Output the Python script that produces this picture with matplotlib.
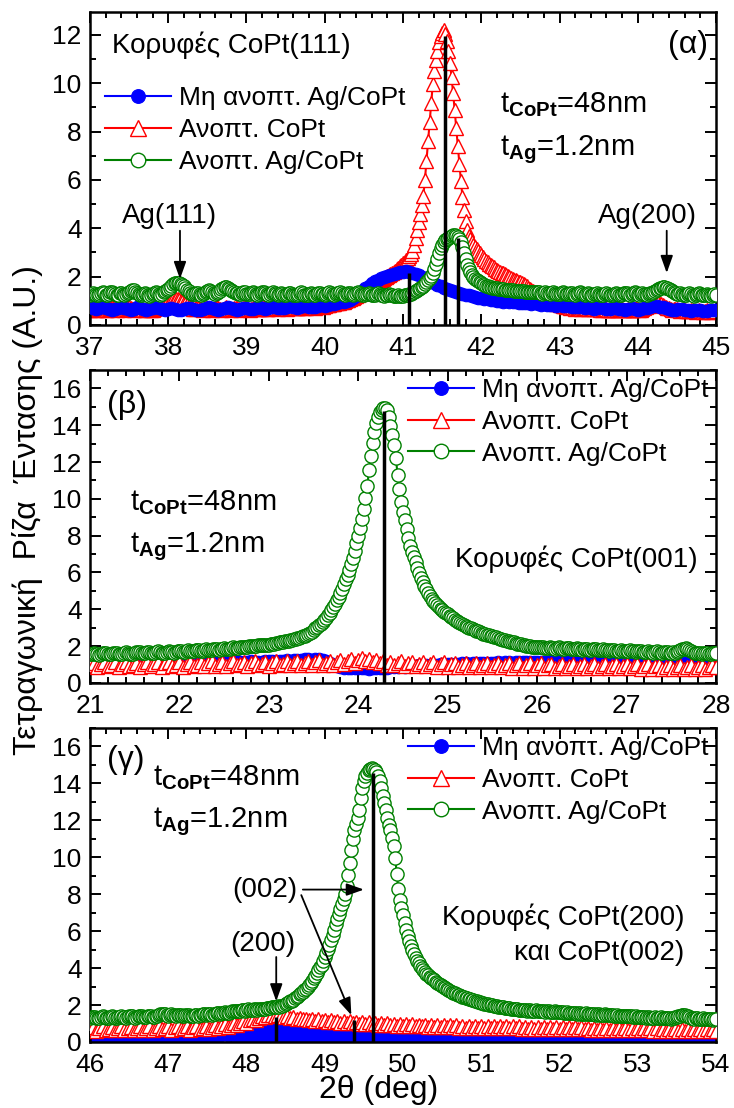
import numpy as np
import matplotlib
matplotlib.use("Agg")
import matplotlib.pyplot as plt
from matplotlib.ticker import MultipleLocator

plt.rcParams['font.family'] = ['Liberation Sans', 'DejaVu Sans']
plt.rcParams['mathtext.fontset'] = 'custom'
plt.rcParams['mathtext.rm'] = 'Liberation Sans'
plt.rcParams['mathtext.bf'] = 'Liberation Sans:bold'
plt.rcParams['mathtext.it'] = 'Liberation Sans:italic'

LABELS = ["Μη ανοπτ. Ag/CoPt", "Ανοπτ. CoPt", "Ανοπτ. Ag/CoPt"]

# ---------------- panel (α): 37-45 deg ----------------
a_blue_start, a_blue_step = 37.0, 0.04
a_blue = [
    0.75, 0.72, 0.68, 0.70, 0.74, 0.71, 0.66, 0.63, 0.67, 0.72, 0.75, 0.71, 0.67, 0.64, 0.68, 0.73, 0.70, 0.66, 0.62, 0.65, 0.70, 0.73, 0.69, 0.65, 0.63,
    0.66, 0.70, 0.68, 0.64, 0.61, 0.65, 0.69, 0.72, 0.68, 0.64, 0.62, 0.66, 0.70, 0.73, 0.69, 0.65, 0.63, 0.67, 0.71, 0.74, 0.70, 0.66, 0.64, 0.68, 0.72,
    0.69, 0.65, 0.67, 0.71, 0.74, 0.70, 0.67, 0.69, 0.73, 0.76, 0.72, 0.69, 0.71, 0.75, 0.78, 0.74, 0.71, 0.73, 0.77, 0.80, 0.76, 0.73, 0.75, 0.79, 0.82,
    0.80, 0.84, 0.87, 0.85, 0.89, 0.93, 0.96, 0.99, 1.04, 1.10, 1.18, 1.28, 1.40, 1.52, 1.62, 1.72, 1.80, 1.87, 1.93, 1.98, 2.03, 2.08, 2.12, 2.15, 2.18,
    2.20, 2.22, 2.20, 2.16, 2.12, 2.06, 2.00, 1.93, 1.86, 1.80, 1.73, 1.66, 1.60, 1.55, 1.50, 1.46, 1.42, 1.38, 1.34, 1.30, 1.26, 1.22, 1.19, 1.16, 1.13,
    1.11, 1.09, 1.07, 1.05, 1.03, 1.01, 0.99, 0.97, 0.99, 0.96, 0.93, 0.95, 0.92, 0.90, 0.92, 0.89, 0.87, 0.89, 0.86, 0.84, 0.86, 0.83, 0.81, 0.83, 0.80,
    0.82, 0.79, 0.77, 0.79, 0.76, 0.74, 0.76, 0.73, 0.71, 0.73, 0.70, 0.68, 0.71, 0.73, 0.70, 0.68, 0.66, 0.69, 0.71, 0.68, 0.66, 0.64, 0.67, 0.69, 0.66,
    0.64, 0.66, 0.69, 0.72, 0.75, 0.77, 0.78, 0.76, 0.73, 0.70, 0.67, 0.64, 0.62, 0.65, 0.67, 0.64, 0.61, 0.59, 0.62, 0.64, 0.61, 0.59, 0.57, 0.60, 0.62,
    0.60,
]
a_red_start, a_red_step = 37.0, 0.02
a_red = [
    0.62, 0.66, 0.70, 0.68, 0.64, 0.61, 0.65, 0.70, 0.73, 0.69, 0.64, 0.62, 0.66, 0.71, 0.74, 0.70, 0.65, 0.62, 0.65, 0.69, 0.72, 0.68, 0.64, 0.66, 0.70,
    0.73, 0.70, 0.66, 0.63, 0.65, 0.69, 0.72, 0.69, 0.65, 0.62, 0.64, 0.68, 0.71, 0.68, 0.64, 0.62, 0.66, 0.70, 0.74, 0.78, 0.82, 0.85, 0.88, 0.92, 0.95,
    0.98, 1.01, 1.04, 1.06, 1.08, 1.08, 1.06, 1.03, 0.99, 0.95, 0.90, 0.86, 0.82, 0.78, 0.74, 0.71, 0.68, 0.66, 0.69, 0.72, 0.70, 0.66, 0.63, 0.65, 0.69,
    0.72, 0.69, 0.65, 0.63, 0.66, 0.70, 0.74, 0.71, 0.67, 0.64, 0.66, 0.70, 0.73, 0.70, 0.66, 0.63, 0.65, 0.69, 0.72, 0.69, 0.65, 0.63, 0.66, 0.70, 0.73,
    0.70, 0.66, 0.64, 0.67, 0.71, 0.74, 0.71, 0.67, 0.65, 0.68, 0.72, 0.75, 0.72, 0.68, 0.66, 0.69, 0.73, 0.76, 0.73, 0.69, 0.67, 0.70, 0.74, 0.77, 0.74,
    0.70, 0.68, 0.71, 0.75, 0.78, 0.75, 0.71, 0.69, 0.72, 0.76, 0.79, 0.76, 0.72, 0.70, 0.73, 0.77, 0.80, 0.77, 0.73, 0.71, 0.74, 0.78, 0.81, 0.78, 0.75,
    0.78, 0.81, 0.84, 0.82, 0.85, 0.88, 0.86, 0.89, 0.92, 0.90, 0.93, 0.96, 0.95, 0.99, 1.02, 1.02, 1.06, 1.10, 1.11, 1.16, 1.20, 1.23, 1.28, 1.32, 1.36,
    1.40, 1.45, 1.50, 1.55, 1.59, 1.63, 1.67, 1.71, 1.75, 1.78, 1.82, 1.86, 1.90, 1.94, 1.98, 2.02, 2.06, 2.10, 2.15, 2.20, 2.25, 2.30, 2.36, 2.42, 2.48,
    2.55, 2.62, 2.70, 2.78, 2.86, 2.95, 3.05, 3.30, 3.60, 3.92, 4.25, 4.60, 4.95, 5.35, 6.00, 6.80, 7.60, 8.40, 9.20, 9.95, 10.50, 10.95, 11.35, 11.70, 11.95,
    12.10, 12.20, 12.05, 11.75, 11.35, 10.85, 10.25, 9.60, 8.90, 8.15, 7.40, 6.65, 5.95, 5.30, 4.75, 4.30, 3.95, 3.70, 3.55, 3.42, 3.32, 3.22, 3.13, 3.04, 2.96,
    2.88, 2.80, 2.73, 2.66, 2.60, 2.54, 2.48, 2.43, 2.38, 2.33, 2.29, 2.25, 2.21, 2.17, 2.13, 2.09, 2.05, 2.01, 1.97, 1.94, 1.91, 1.88, 1.85, 1.82, 1.79,
    1.76, 1.72, 1.68, 1.64, 1.60, 1.55, 1.50, 1.45, 1.40, 1.35, 1.30, 1.25, 1.20, 1.16, 1.12, 1.08, 1.05, 1.02, 0.99, 0.96, 0.94, 0.92, 0.90, 0.88, 0.86,
    0.84, 0.82, 0.80, 0.78, 0.76, 0.78, 0.74, 0.72, 0.75, 0.71, 0.68, 0.71, 0.74, 0.70, 0.67, 0.70, 0.73, 0.69, 0.66, 0.68, 0.72, 0.69, 0.65, 0.67, 0.70,
    0.68, 0.64, 0.62, 0.65, 0.69, 0.66, 0.62, 0.60, 0.63, 0.67, 0.64, 0.61, 0.63, 0.67, 0.70, 0.66, 0.62, 0.60, 0.63, 0.67, 0.64, 0.61, 0.63, 0.66, 0.69,
    0.66, 0.62, 0.64, 0.68, 0.71, 0.74, 0.77, 0.80, 0.83, 0.86, 0.88, 0.90, 0.91, 0.90, 0.88, 0.85, 0.82, 0.78, 0.75, 0.72, 0.69, 0.66, 0.63, 0.65, 0.68,
    0.65, 0.61, 0.59, 0.62, 0.65, 0.62, 0.58, 0.56, 0.59, 0.63, 0.60, 0.57, 0.55, 0.58, 0.62, 0.59, 0.56, 0.54, 0.57, 0.60, 0.58, 0.55, 0.53, 0.56, 0.59,
    0.57,
]
a_green_start, a_green_step = 37.0, 0.02
a_green = [
    1.25, 1.28, 1.32, 1.30, 1.24, 1.22, 1.27, 1.33, 1.36, 1.31, 1.26, 1.24, 1.29, 1.35, 1.38, 1.33, 1.27, 1.23, 1.26, 1.31, 1.34, 1.30, 1.25, 1.28, 1.33,
    1.38, 1.42, 1.46, 1.44, 1.38, 1.31, 1.27, 1.24, 1.26, 1.30, 1.34, 1.29, 1.23, 1.20, 1.24, 1.29, 1.33, 1.37, 1.34, 1.28, 1.25, 1.30, 1.36, 1.40, 1.44,
    1.48, 1.55, 1.62, 1.68, 1.72, 1.74, 1.75, 1.73, 1.70, 1.66, 1.60, 1.52, 1.45, 1.39, 1.33, 1.29, 1.27, 1.30, 1.34, 1.31, 1.27, 1.25, 1.28, 1.33, 1.37,
    1.40, 1.43, 1.41, 1.36, 1.31, 1.28, 1.32, 1.37, 1.42, 1.47, 1.52, 1.57, 1.58, 1.54, 1.48, 1.43, 1.40, 1.37, 1.34, 1.31, 1.28, 1.30, 1.34, 1.38, 1.35,
    1.30, 1.27, 1.29, 1.33, 1.36, 1.33, 1.28, 1.25, 1.27, 1.31, 1.35, 1.38, 1.34, 1.29, 1.26, 1.28, 1.32, 1.35, 1.31, 1.27, 1.25, 1.29, 1.33, 1.30, 1.26,
    1.24, 1.27, 1.31, 1.34, 1.30, 1.25, 1.22, 1.24, 1.28, 1.32, 1.35, 1.31, 1.26, 1.23, 1.25, 1.29, 1.33, 1.30, 1.26, 1.24, 1.27, 1.31, 1.34, 1.30, 1.27,
    1.25, 1.28, 1.32, 1.35, 1.31, 1.27, 1.24, 1.27, 1.31, 1.34, 1.37, 1.33, 1.28, 1.25, 1.27, 1.31, 1.34, 1.30, 1.26, 1.28, 1.32, 1.36, 1.33, 1.29, 1.26,
    1.24, 1.27, 1.30, 1.33, 1.30, 1.26, 1.23, 1.25, 1.28, 1.31, 1.28, 1.24, 1.22, 1.21, 1.23, 1.26, 1.28, 1.25, 1.22, 1.20, 1.19, 1.20, 1.22, 1.21, 1.20,
    1.20, 1.22, 1.24, 1.26, 1.28, 1.30, 1.33, 1.36, 1.40, 1.44, 1.48, 1.53, 1.58, 1.63, 1.70, 1.77, 1.85, 1.94, 2.04, 2.16, 2.32, 2.52, 2.75, 2.98, 3.18,
    3.32, 3.42, 3.50, 3.56, 3.61, 3.65, 3.68, 3.71, 3.72, 3.70, 3.64, 3.55, 3.42, 3.22, 2.98, 2.72, 2.50, 2.32, 2.18, 2.07, 1.98, 1.91, 1.85, 1.80, 1.76,
    1.72, 1.69, 1.66, 1.63, 1.61, 1.59, 1.57, 1.55, 1.54, 1.52, 1.51, 1.50, 1.49, 1.48, 1.47, 1.46, 1.46, 1.45, 1.44, 1.44, 1.43, 1.42, 1.42, 1.41, 1.41,
    1.40, 1.39, 1.39, 1.38, 1.38, 1.37, 1.37, 1.36, 1.36, 1.35, 1.36, 1.38, 1.35, 1.32, 1.30, 1.33, 1.36, 1.34, 1.31, 1.29, 1.32, 1.35, 1.33, 1.30, 1.28,
    1.30, 1.33, 1.36, 1.33, 1.29, 1.27, 1.30, 1.34, 1.31, 1.27, 1.25, 1.28, 1.32, 1.35, 1.31, 1.27, 1.25, 1.28, 1.31, 1.29, 1.26, 1.24, 1.27, 1.30, 1.33,
    1.30, 1.26, 1.23, 1.25, 1.29, 1.32, 1.28, 1.24, 1.22, 1.25, 1.29, 1.33, 1.30, 1.26, 1.24, 1.27, 1.31, 1.34, 1.31, 1.27, 1.25, 1.28, 1.32, 1.35, 1.32,
    1.28, 1.26, 1.29, 1.32, 1.30, 1.27, 1.25, 1.28, 1.31, 1.34, 1.37, 1.40, 1.44, 1.48, 1.51, 1.54, 1.56, 1.57, 1.55, 1.52, 1.48, 1.45, 1.41, 1.37, 1.33,
    1.30, 1.28, 1.31, 1.29, 1.25, 1.22, 1.24, 1.28, 1.31, 1.27, 1.23, 1.21, 1.24, 1.28, 1.31, 1.28, 1.24, 1.22, 1.25, 1.29, 1.26, 1.23, 1.21, 1.24, 1.28,
    1.25,
]
a_ref_x = [41.08, 41.535, 41.70]
a_ref_h = [2.15, 11.95, 3.6]

# ---------------- panel (β): 21-28 deg ----------------
b_blue_start, b_blue_step = 21.0, 0.04
b_blue = [
    1.05, 1.08, 1.06, 1.03, 1.05, 1.09, 1.07, 1.04, 1.06, 1.10, 1.08, 1.05, 1.07, 1.11, 1.09, 1.06, 1.08, 1.12, 1.10, 1.07, 1.09, 1.12, 1.10, 1.08, 1.10,
    1.13, 1.11, 1.08, 1.10, 1.14, 1.12, 1.09, 1.11, 1.15, 1.13, 1.10, 1.12, 1.16, 1.14, 1.11, 1.13, 1.17, 1.15, 1.12, 1.14, 1.18, 1.16, 1.13, 1.15, 1.19,
    1.17, 1.19, 1.21, 1.18, 1.22, 1.24, 1.21, 1.25, 1.27, 1.24, 1.28, 1.30, 1.27, 1.30, 1.28, 1.24, 1.18, 1.10, 1.00, 0.92, 0.86, 0.83, 0.81, 0.82, 0.80,
    0.81, 0.79, 0.80, 0.78, 0.80, 0.82, 0.79, 0.81, 0.84, 0.86, 0.85, 0.88, 0.90, 0.89, 0.92, 0.94, 0.92, 0.95, 0.97, 0.95, 0.98, 1.00, 0.98, 1.01, 1.03,
    1.01, 1.03, 1.05, 1.03, 1.06, 1.07, 1.05, 1.08, 1.09, 1.07, 1.09, 1.10, 1.08, 1.11, 1.12, 1.10, 1.12, 1.13, 1.11, 1.13, 1.14, 1.12, 1.14, 1.15, 1.13,
    1.15, 1.16, 1.14, 1.15, 1.17, 1.15, 1.16, 1.18, 1.15, 1.17, 1.18, 1.16, 1.17, 1.19, 1.16, 1.18, 1.19, 1.17, 1.18, 1.20, 1.17, 1.19, 1.20, 1.18, 1.19,
    1.17, 1.18, 1.16, 1.17, 1.15, 1.16, 1.14, 1.15, 1.13, 1.14, 1.12, 1.13, 1.11, 1.12, 1.10, 1.11, 1.09, 1.10, 1.08, 1.09, 1.07, 1.08, 1.06, 1.07, 1.05,
    1.06,
]
b_red_start, b_red_step = 21.0, 0.04
b_red = [
    0.95, 1.10, 0.88, 1.05, 1.15, 0.90, 1.00, 1.12, 0.86, 1.03, 1.14, 0.92, 0.98, 1.10, 0.87, 1.04, 1.16, 0.91, 1.01, 1.13, 0.89, 1.06, 1.15, 0.93, 1.00,
    1.12, 0.88, 1.04, 1.16, 0.92, 0.99, 1.13, 0.90, 1.06, 1.17, 0.94, 1.02, 1.14, 0.91, 1.07, 1.18, 0.95, 1.03, 1.15, 0.92, 1.08, 1.19, 0.96, 1.04, 1.16,
    0.93, 1.09, 1.20, 0.97, 1.05, 1.17, 0.95, 1.10, 1.21, 0.98, 1.07, 1.19, 0.96, 1.12, 1.23, 1.00, 1.09, 1.21, 0.99, 1.14, 1.26, 1.03, 1.20, 1.32, 1.10,
    1.25, 1.38, 1.18, 1.30, 1.12, 1.24, 1.06, 1.18, 1.00, 1.13, 0.97, 1.10, 1.18, 0.94, 1.07, 1.16, 0.92, 1.05, 1.14, 0.90, 1.03, 1.13, 0.89, 1.02, 1.12,
    0.88, 1.01, 1.11, 0.87, 1.00, 1.10, 0.86, 0.99, 1.09, 0.86, 0.98, 1.08, 0.85, 0.97, 1.08, 0.85, 0.97, 1.07, 0.84, 0.96, 1.07, 0.84, 0.96, 1.06, 0.83,
    0.95, 1.06, 0.83, 0.95, 1.05, 0.82, 0.94, 1.05, 0.82, 0.94, 1.04, 0.81, 0.93, 1.04, 0.81, 0.93, 1.03, 0.80, 0.92, 1.03, 0.80, 0.92, 1.02, 0.79, 0.91,
    1.02, 0.79, 0.91, 1.01, 0.78, 0.90, 1.01, 0.78, 0.90, 1.00, 0.77, 0.89, 1.00, 0.77, 0.89, 0.99, 0.76, 0.88, 0.99, 0.76, 0.88, 0.98, 0.75, 0.87, 0.98,
    0.86,
]
b_green_start, b_green_step = 21.0, 0.02
b_green = [
    1.55, 1.58, 1.62, 1.60, 1.56, 1.54, 1.57, 1.61, 1.64, 1.61, 1.57, 1.55, 1.58, 1.62, 1.65, 1.62, 1.58, 1.56, 1.59, 1.63, 1.66, 1.63, 1.59, 1.57, 1.60,
    1.64, 1.67, 1.70, 1.68, 1.64, 1.62, 1.65, 1.69, 1.67, 1.63, 1.61, 1.64, 1.68, 1.71, 1.68, 1.64, 1.62, 1.65, 1.69, 1.72, 1.69, 1.66, 1.64, 1.67, 1.71,
    1.74, 1.71, 1.68, 1.70, 1.74, 1.77, 1.74, 1.71, 1.73, 1.77, 1.80, 1.77, 1.74, 1.76, 1.80, 1.83, 1.80, 1.77, 1.79, 1.83, 1.86, 1.83, 1.80, 1.82, 1.86,
    1.89, 1.86, 1.84, 1.87, 1.91, 1.94, 1.91, 1.88, 1.90, 1.94, 1.97, 1.95, 1.93, 1.96, 2.00, 2.03, 2.01, 1.99, 2.02, 2.04, 2.06, 2.05, 2.04, 2.06, 2.07,
    2.08, 2.10, 2.12, 2.14, 2.16, 2.18, 2.20, 2.22, 2.24, 2.26, 2.28, 2.30, 2.32, 2.34, 2.37, 2.40, 2.43, 2.46, 2.49, 2.53, 2.57, 2.61, 2.66, 2.71, 2.76,
    2.90, 2.97, 3.05, 3.13, 3.22, 3.32, 3.43, 3.55, 3.68, 3.82, 3.97, 4.13, 4.30, 4.48, 4.68, 4.90, 5.13, 5.37, 5.62, 5.88, 6.16, 6.46, 6.80, 7.18, 7.58,
    7.98, 8.42, 8.90, 9.45, 10.05, 10.70, 11.55, 12.35, 13.05, 13.65, 14.10, 14.45, 14.70, 14.85, 14.95, 14.95, 14.80, 14.45, 13.98, 13.45, 12.90, 12.20, 11.30, 10.55, 9.85,
    9.30, 8.85, 8.35, 7.85, 7.45, 7.12, 6.85, 6.55, 6.25, 5.98, 5.72, 5.50, 5.28, 5.08, 4.90, 4.72, 4.58, 4.45, 4.34, 4.23, 4.12, 4.03, 3.95, 3.88, 3.80,
    3.72, 3.65, 3.58, 3.51, 3.44, 3.38, 3.32, 3.26, 3.20, 3.15, 3.10, 3.05, 3.00, 2.96, 2.92, 2.88, 2.84, 2.80, 2.76, 2.72, 2.68, 2.65, 2.62, 2.59, 2.56,
    2.53, 2.50, 2.47, 2.44, 2.41, 2.38, 2.35, 2.32, 2.29, 2.27, 2.25, 2.23, 2.20, 2.17, 2.14, 2.11, 2.09, 2.07, 2.05, 2.03, 2.01, 1.99, 1.98, 1.97, 1.96,
    1.95, 1.93, 1.96, 1.94, 1.91, 1.89, 1.92, 1.95, 1.92, 1.89, 1.87, 1.90, 1.93, 1.90, 1.87, 1.85, 1.88, 1.91, 1.88, 1.85, 1.83, 1.86, 1.89, 1.86, 1.83,
    1.81, 1.84, 1.87, 1.84, 1.81, 1.79, 1.82, 1.85, 1.82, 1.79, 1.77, 1.80, 1.83, 1.80, 1.77, 1.75, 1.78, 1.81, 1.78, 1.75, 1.73, 1.76, 1.79, 1.76, 1.73,
    1.71, 1.74, 1.77, 1.74, 1.71, 1.69, 1.72, 1.75, 1.72, 1.69, 1.67, 1.70, 1.73, 1.70, 1.67, 1.65, 1.68, 1.71, 1.68, 1.65, 1.64, 1.67, 1.70, 1.67, 1.64,
    1.63, 1.66, 1.64, 1.68, 1.72, 1.77, 1.82, 1.86, 1.88, 1.85, 1.79, 1.72, 1.66, 1.63, 1.61, 1.64, 1.61, 1.59, 1.62, 1.65, 1.62, 1.59, 1.58, 1.61, 1.64,
    1.62,
]
b_ref_x = [24.29]
b_ref_h = [14.75]

# ---------------- panel (γ): 46-54 deg ----------------
c_blue_start, c_blue_step = 46.0, 0.04
c_blue = [
    0.30, 0.27, 0.25, 0.28, 0.31, 0.29, 0.26, 0.24, 0.27, 0.30, 0.32, 0.29, 0.26, 0.28, 0.31, 0.33, 0.30, 0.27, 0.29, 0.32, 0.34, 0.31, 0.28, 0.30, 0.33,
    0.31, 0.28, 0.30, 0.33, 0.35, 0.32, 0.29, 0.31, 0.34, 0.36, 0.33, 0.30, 0.32, 0.35, 0.37, 0.34, 0.36, 0.39, 0.42, 0.36, 0.48, 0.35, 0.55, 0.33, 0.62,
    0.30, 0.70, 0.32, 0.78, 0.30, 0.86, 0.28, 0.92, 0.30, 0.95, 0.28, 0.92, 0.27, 0.90, 0.28, 0.88, 0.26, 0.86, 0.27, 0.85, 0.26, 0.84, 0.25, 0.83, 0.25,
    0.82, 0.25, 0.82, 0.24, 0.81, 0.24, 0.80, 0.23, 0.80, 0.23, 0.79, 0.22, 0.78, 0.22, 0.70, 0.22, 0.55, 0.22, 0.40, 0.25, 0.32, 0.28, 0.29, 0.28, 0.27,
    0.28, 0.30, 0.27, 0.25, 0.27, 0.29, 0.26, 0.24, 0.26, 0.28, 0.25, 0.23, 0.25, 0.27, 0.24, 0.22, 0.24, 0.26, 0.23, 0.21, 0.23, 0.25, 0.22, 0.20, 0.22,
    0.24, 0.21, 0.19, 0.21, 0.23, 0.20, 0.18, 0.20, 0.22, 0.19, 0.17, 0.19, 0.21, 0.18, 0.16, 0.18, 0.20, 0.17, 0.15, 0.17, 0.19, 0.16, 0.14, 0.16, 0.18,
    0.17, 0.15, 0.17, 0.19, 0.16, 0.14, 0.16, 0.18, 0.15, 0.13, 0.15, 0.17, 0.14, 0.13, 0.15, 0.17, 0.14, 0.12, 0.14, 0.16, 0.13, 0.12, 0.14, 0.16, 0.13,
    0.12, 0.14, 0.16, 0.13, 0.11, 0.13, 0.15, 0.12, 0.11, 0.13, 0.15, 0.12, 0.11, 0.13, 0.15, 0.12, 0.10, 0.12, 0.14, 0.11, 0.10, 0.12, 0.14, 0.11, 0.10,
    0.12,
]
c_red_start, c_red_step = 46.0, 0.04
c_red = [
    0.68, 0.80, 0.62, 0.74, 0.84, 0.65, 0.72, 0.82, 0.63, 0.76, 0.85, 0.66, 0.73, 0.83, 0.64, 0.77, 0.86, 0.67, 0.74, 0.84, 0.65, 0.78, 0.87, 0.68, 0.75,
    0.85, 0.66, 0.79, 0.88, 0.69, 0.76, 0.86, 0.67, 0.80, 0.89, 0.70, 0.78, 0.88, 0.70, 0.82, 0.92, 0.75, 0.86, 0.96, 0.82, 0.94, 1.04, 0.92, 1.05, 1.14,
    1.05, 1.18, 1.26, 1.20, 1.32, 1.40, 1.34, 1.44, 1.48, 1.42, 1.46, 1.40, 1.35, 1.38, 1.30, 1.34, 1.26, 1.30, 1.22, 1.27, 1.19, 1.24, 1.16, 1.22, 1.13,
    1.20, 1.10, 1.18, 1.07, 1.16, 1.05, 1.14, 1.03, 1.12, 1.01, 1.10, 0.99, 1.08, 0.97, 1.06, 0.95, 1.04, 0.93, 1.02, 0.92, 1.00, 0.90, 0.99, 0.89, 0.97,
    0.88, 0.96, 0.86, 0.95, 0.85, 0.94, 0.84, 0.93, 0.83, 0.92, 0.82, 0.92, 0.81, 0.91, 0.80, 0.90, 0.79, 0.90, 0.78, 0.89, 0.78, 0.88, 0.77, 0.88, 0.76,
    0.87, 0.76, 0.86, 0.75, 0.86, 0.74, 0.85, 0.74, 0.85, 0.73, 0.84, 0.73, 0.84, 0.72, 0.83, 0.72, 0.83, 0.71, 0.82, 0.71, 0.82, 0.70, 0.81, 0.70, 0.81,
    0.70, 0.80, 0.69, 0.80, 0.69, 0.79, 0.68, 0.79, 0.68, 0.78, 0.67, 0.78, 0.67, 0.77, 0.66, 0.77, 0.66, 0.76, 0.65, 0.76, 0.65, 0.75, 0.64, 0.75, 0.64,
    0.74, 0.63, 0.74, 0.63, 0.73, 0.62, 0.73, 0.62, 0.72, 0.61, 0.72, 0.61, 0.71, 0.60, 0.71, 0.60, 0.70, 0.59, 0.70, 0.59, 0.69, 0.58, 0.69, 0.58, 0.68,
    0.60,
]
c_green_start, c_green_step = 46.0, 0.02
c_green = [
    1.30, 1.34, 1.37, 1.34, 1.30, 1.28, 1.31, 1.35, 1.38, 1.35, 1.31, 1.29, 1.32, 1.36, 1.39, 1.36, 1.32, 1.30, 1.33, 1.37, 1.40, 1.37, 1.33, 1.31, 1.34,
    1.38, 1.41, 1.38, 1.34, 1.32, 1.35, 1.39, 1.42, 1.39, 1.35, 1.33, 1.36, 1.40, 1.43, 1.40, 1.37, 1.35, 1.38, 1.42, 1.46, 1.50, 1.53, 1.52, 1.49, 1.46,
    1.43, 1.46, 1.49, 1.47, 1.44, 1.42, 1.45, 1.48, 1.46, 1.43, 1.41, 1.44, 1.47, 1.45, 1.42, 1.40, 1.43, 1.46, 1.44, 1.42, 1.45, 1.48, 1.51, 1.49, 1.47,
    1.50, 1.53, 1.51, 1.48, 1.50, 1.54, 1.57, 1.55, 1.52, 1.55, 1.58, 1.61, 1.59, 1.56, 1.59, 1.63, 1.67, 1.70, 1.68, 1.65, 1.67, 1.70, 1.74, 1.72, 1.70,
    1.73, 1.76, 1.74, 1.72, 1.75, 1.78, 1.76, 1.74, 1.77, 1.80, 1.79, 1.78, 1.81, 1.84, 1.83, 1.84, 1.87, 1.89, 1.88, 1.90, 1.92, 1.91, 1.93, 1.96, 1.98,
    2.06, 2.11, 2.16, 2.20, 2.24, 2.29, 2.36, 2.43, 2.50, 2.57, 2.65, 2.73, 2.81, 2.89, 2.98, 3.08, 3.19, 3.32, 3.45, 3.59, 3.74, 3.89, 4.04, 4.19, 4.37,
    4.58, 4.80, 5.02, 5.25, 5.50, 5.78, 6.08, 6.38, 6.68, 6.95, 7.20, 7.45, 7.72, 8.02, 8.45, 9.05, 9.70, 10.40, 11.00, 11.45, 11.80, 12.10, 12.55, 13.20, 13.75,
    14.15, 14.40, 14.58, 14.70, 14.80, 14.85, 14.80, 14.72, 14.60, 14.40, 14.15, 13.75, 13.30, 12.95, 12.55, 12.10, 11.75, 11.45, 11.05, 10.60, 9.95, 9.10, 8.30, 7.70, 7.25,
    6.85, 6.45, 6.05, 5.75, 5.45, 5.20, 4.98, 4.75, 4.55, 4.38, 4.25, 4.12, 4.00, 3.89, 3.79, 3.70, 3.62, 3.54, 3.47, 3.40, 3.33, 3.26, 3.19, 3.13, 3.07,
    3.02, 2.96, 2.90, 2.85, 2.80, 2.75, 2.71, 2.67, 2.63, 2.59, 2.55, 2.52, 2.49, 2.46, 2.43, 2.40, 2.37, 2.34, 2.31, 2.28, 2.25, 2.23, 2.21, 2.19, 2.17,
    2.12, 2.10, 2.08, 2.06, 2.04, 2.02, 2.00, 1.98, 1.96, 1.95, 1.93, 1.91, 1.90, 1.88, 1.87, 1.86, 1.84, 1.83, 1.82, 1.81, 1.79, 1.78, 1.77, 1.76, 1.75,
    1.74, 1.73, 1.75, 1.72, 1.70, 1.71, 1.73, 1.70, 1.68, 1.69, 1.71, 1.68, 1.66, 1.67, 1.69, 1.66, 1.64, 1.65, 1.67, 1.64, 1.62, 1.63, 1.65, 1.62, 1.60,
    1.61, 1.63, 1.60, 1.58, 1.59, 1.61, 1.58, 1.56, 1.57, 1.59, 1.56, 1.54, 1.55, 1.57, 1.54, 1.52, 1.53, 1.55, 1.52, 1.50, 1.51, 1.53, 1.50, 1.48, 1.49,
    1.51, 1.48, 1.46, 1.47, 1.49, 1.46, 1.44, 1.45, 1.47, 1.44, 1.42, 1.43, 1.45, 1.42, 1.40, 1.41, 1.43, 1.40, 1.38, 1.39, 1.41, 1.38, 1.36, 1.37, 1.39,
    1.36, 1.34, 1.35, 1.37, 1.34, 1.32, 1.33, 1.35, 1.32, 1.30, 1.31, 1.33, 1.30, 1.29, 1.31, 1.33, 1.30, 1.28, 1.29, 1.31, 1.28, 1.27, 1.29, 1.31, 1.33,
    1.36, 1.39, 1.42, 1.45, 1.47, 1.46, 1.43, 1.39, 1.35, 1.31, 1.28, 1.26, 1.28, 1.30, 1.27, 1.25, 1.26, 1.28, 1.25, 1.23, 1.24, 1.26, 1.23, 1.21, 1.22,
    1.24,
]
c_ref_x = [48.38, 49.37, 49.62]
c_ref_h = [1.35, 1.20, 14.55]

# ---------------- styling ----------------
STYLE = {
    'blue': dict(color='#0000ff', marker='o', ms=9, mfc='#0000ff', mec='#0000ff', mew=0.8, lw=1.5),
    'red': dict(color='#ff0000', marker='^', ms=10, mfc='white', mec='#ff0000', mew=1.0, lw=1.5),
    'green': dict(color='#008000', marker='o', ms=9.5, mfc='white', mec='#008000', mew=1.0, lw=1.5),
}
TICK_FS = 19
NOTE_FS = 20
LEG_FS = 19


def scan(start, step, vals):
    return start + step * np.arange(len(vals)), np.asarray(vals)


def style_axes(ax, xlim, ylim):
    ax.set_xlim(*xlim)
    ax.set_ylim(*ylim)
    ax.xaxis.set_major_locator(MultipleLocator(1))
    ax.xaxis.set_minor_locator(MultipleLocator(0.2))
    ax.yaxis.set_major_locator(MultipleLocator(2))
    ax.yaxis.set_minor_locator(MultipleLocator(1))
    ax.tick_params(which='both', direction='in', top=True, right=True, width=1.4)
    ax.tick_params(which='major', length=8, labelsize=TICK_FS)
    ax.tick_params(axis='x', which='major', pad=8)
    ax.tick_params(axis='y', which='major', pad=6)
    ax.tick_params(which='minor', length=4)
    for sp in ax.spines.values():
        sp.set_linewidth(1.8)


def draw_panel(ax, blue, red, green, order):
    series = {'blue': blue, 'red': red, 'green': green}
    handles = {}
    for z, key in enumerate(order):
        xs, ys = series[key]
        (h,) = ax.plot(xs, ys, zorder=2 + z, **STYLE[key])
        handles[key] = h
    return [handles['blue'], handles['red'], handles['green']]


def add_legend(ax, handles, **kw):
    ax.legend(handles, LABELS, frameon=False, fontsize=LEG_FS, handlelength=2.5,
              handletextpad=0.3, labelspacing=0.3, markerscale=1.1, borderpad=0.2, **kw)


def thickness_text(ax, x, y1, y2):
    ax.text(x, y1, r't$_{\mathbf{CoPt}}$=48nm', transform=ax.transAxes, fontsize=21, va='baseline')
    ax.text(x, y2, r't$_{\mathbf{Ag}}$=1.2nm', transform=ax.transAxes, fontsize=21, va='baseline')


def arrow(ax, start, tip):
    ax.annotate('', xy=tip, xytext=start,
                arrowprops=dict(arrowstyle='-|>,head_length=0.7,head_width=0.25', color='k',
                                lw=1.3, mutation_scale=15, shrinkA=0, shrinkB=0), zorder=8)


fig = plt.figure(figsize=(7.34, 11.08), dpi=100)
ax1 = fig.add_axes([0.1226, 0.7067, 0.8529, 0.2825])
ax2 = fig.add_axes([0.1226, 0.3836, 0.8529, 0.2825])
ax3 = fig.add_axes([0.1226, 0.0596, 0.8529, 0.2834])

# panel (α)
h = draw_panel(ax1, scan(a_blue_start, a_blue_step, a_blue), scan(a_red_start, a_red_step, a_red),
               scan(a_green_start, a_green_step, a_green), ['red', 'blue', 'green'])
ax1.vlines(a_ref_x, 0, a_ref_h, color='k', lw=2.5, zorder=7)
style_axes(ax1, (37, 45), (0, 12.95))
add_legend(ax1, h, loc='upper left', bbox_to_anchor=(0.015, 0.78), borderaxespad=0.0)
ax1.text(0.035, 0.895, 'Κορυφές CoPt(111)', transform=ax1.transAxes, fontsize=NOTE_FS, va='center')
ax1.text(0.987, 0.895, '(α)', transform=ax1.transAxes, fontsize=23, va='center', ha='right')
thickness_text(ax1, 0.655, 0.68, 0.543)
ax1.text(38.02, 4.2, 'Ag(111)', fontsize=NOTE_FS, ha='center', va='baseline')
ax1.text(44.13, 4.2, 'Ag(200)', fontsize=NOTE_FS, ha='center', va='baseline')
arrow(ax1, (38.15, 3.9), (38.15, 1.9))
arrow(ax1, (44.37, 3.9), (44.37, 2.15))

# panel (β)
h = draw_panel(ax2, scan(b_blue_start, b_blue_step, b_blue), scan(b_red_start, b_red_step, b_red),
               scan(b_green_start, b_green_step, b_green), ['blue', 'red', 'green'])
ax2.vlines(b_ref_x, 0, b_ref_h, color='k', lw=2.5, zorder=7)
style_axes(ax2, (21, 28), (0, 17))
add_legend(ax2, h, loc='upper right', bbox_to_anchor=(1.0, 1.0), borderaxespad=0.1)
ax2.text(0.027, 0.888, '(β)', transform=ax2.transAxes, fontsize=23, va='center')
thickness_text(ax2, 0.064, 0.553, 0.418)
ax2.text(0.97, 0.37, 'Κορυφές CoPt(001)', transform=ax2.transAxes, fontsize=NOTE_FS, ha='right', va='baseline')

# panel (γ)
h = draw_panel(ax3, scan(c_blue_start, c_blue_step, c_blue), scan(c_red_start, c_red_step, c_red),
               scan(c_green_start, c_green_step, c_green), ['blue', 'red', 'green'])
ax3.vlines(c_ref_x, 0, c_ref_h, color='k', lw=2.5, zorder=7)
style_axes(ax3, (46, 54), (0, 17))
add_legend(ax3, h, loc='upper right', bbox_to_anchor=(1.0, 1.0), borderaxespad=0.1)
ax3.text(0.027, 0.898, '(γ)', transform=ax3.transAxes, fontsize=23, va='center')
thickness_text(ax3, 0.10, 0.818, 0.685)
ax3.text(0.95, 0.373, 'Κορυφές CoPt(200)', transform=ax3.transAxes, fontsize=NOTE_FS, ha='right', va='baseline')
ax3.text(0.95, 0.261, 'και CoPt(002)', transform=ax3.transAxes, fontsize=NOTE_FS, ha='right', va='baseline')
ax3.text(48.21, 4.9, '(200)', fontsize=NOTE_FS, ha='center', va='baseline')
ax3.text(48.24, 7.86, '(002)', fontsize=NOTE_FS, ha='center', va='baseline')
arrow(ax3, (48.38, 4.6), (48.38, 2.2))
arrow(ax3, (48.72, 8.25), (49.50, 8.25))
arrow(ax3, (48.70, 7.95), (49.34, 1.45))

fig.text(0.037, 0.54, 'Τετραγωνική  Ρίζα  Έντασης (A.U.)', rotation=90, ha='center', va='center', fontsize=23)
fig.text(0.516, 0.016, '2θ (deg)', ha='center', va='center', fontsize=23)

fig.savefig('out.png', dpi=100)
